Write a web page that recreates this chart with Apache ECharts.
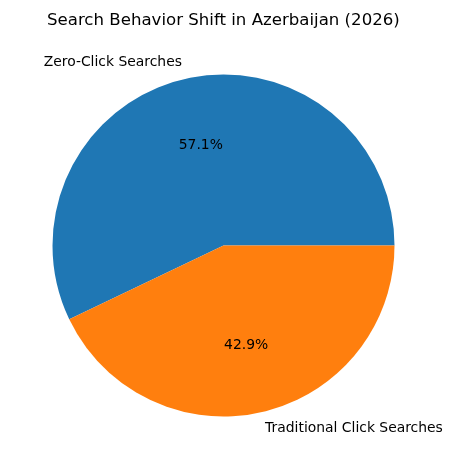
<!DOCTYPE html>
<html>
<head>
<meta charset="utf-8">
<script src="https://cdn.jsdelivr.net/npm/echarts@6/dist/echarts.min.js"></script>
<style>
  html, body { margin: 0; padding: 0; background: #fff; }
  #chart { width: 453px; height: 470px; }
</style>
</head>
<body>
<div id="chart"></div>
<script>
// data
var categories = ["Zero-Click Searches", "Traditional Click Searches"];
var shares = [57.1, 42.9];
var colors = ["#1f77b4", "#ff7f0e"];

var font = "DejaVu Sans";
var cx = 223.5, cy = 245.5, r = 171;

var pieData = categories.map(function (name, i) {
  return { name: name, value: shares[i], itemStyle: { color: colors[i] } };
});

var chart = echarts.init(document.getElementById("chart"), null, { renderer: "canvas" });

chart.setOption({
  animation: false,
  backgroundColor: "#fff",
  title: {
    text: "Search Behavior Shift in Azerbaijan (2026)",
    left: 42,
    top: 7,
    textStyle: { fontFamily: font, fontSize: 16.6, fontWeight: "normal", color: "#000" }
  },
  series: [
    {
      // the slices, with the category names outside (like matplotlib labeldistance 1.1)
      type: "pie",
      center: [cx, cy],
      radius: [0, r],
      startAngle: 0,
      clockwise: false,
      avoidLabelOverlap: false,
      silent: true,
      data: pieData,
      label: {
        show: true,
        position: "outside",
        formatter: "{b}",
        distanceToLabelLine: 0,
        fontFamily: font,
        fontSize: 13.9,
        color: "#000"
      },
      labelLine: { show: false, length: 17, length2: 0 },
      emphasis: { disabled: true }
    },
    {
      // invisible copy, used only to put the percentages at 0.6 r
      type: "pie",
      center: [cx, cy],
      radius: [0, 199],
      startAngle: 0,
      clockwise: false,
      silent: true,
      data: pieData.map(function (d) {
        return { name: d.name, value: d.value, itemStyle: { color: "rgba(0,0,0,0)" } };
      }),
      label: {
        show: true,
        position: "inside",
        formatter: function (p) { return p.percent.toFixed(1) + "%"; },
        fontFamily: font,
        fontSize: 13.9,
        color: "#000"
      },
      labelLine: { show: false },
      emphasis: { disabled: true }
    }
  ]
});
</script>
</body>
</html>
